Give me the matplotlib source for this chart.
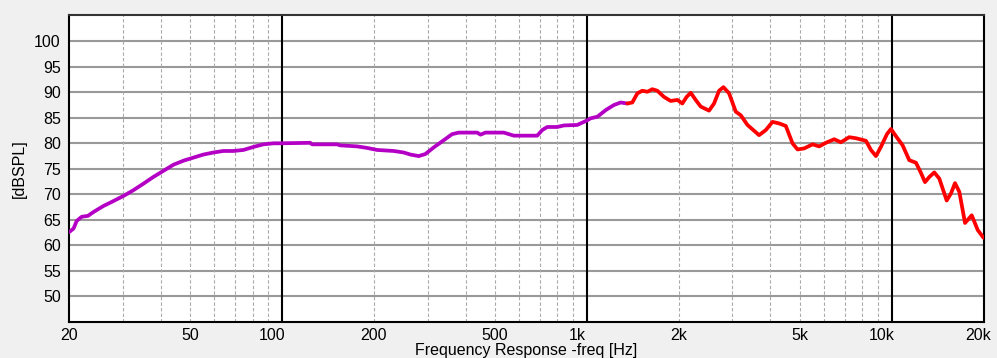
import numpy as np
import matplotlib
matplotlib.use('Agg')
import matplotlib.pyplot as plt
from matplotlib.transforms import ScaledTranslation

# frequency response (Hz, dBSPL)
freq_low = [20, 20.7, 21.2, 22.0, 23.1, 24.0, 25.9, 28.0, 30.2, 32.5, 35.1, 37.8,
            40.8, 44.0, 47.5, 51.2, 55.2, 59.6, 64.2, 69.3, 74.7, 80.6, 86.9, 93.8,
            98.6, 123.7, 125.4, 151.4, 155.2, 176.2, 190, 204.9, 232.3, 250.6,
            263.6, 280.6, 295.2, 314.4, 339, 361.3, 379.8, 436.6, 447.6, 464.8,
            533.8, 575.8, 687, 713.6, 741, 799, 840, 929.6, 1002.6, 1028, 1082,
            1152, 1226, 1290, 1357]
spl_low = [62.6, 63.3, 64.8, 65.6, 65.8, 66.5, 67.7, 68.7, 69.7, 70.8, 72.1, 73.4,
           74.6, 75.8, 76.6, 77.2, 77.8, 78.2, 78.5, 78.5, 78.7, 79.3, 79.8, 80.0,
           80.0, 80.1, 79.8, 79.8, 79.6, 79.4, 79.1, 78.7, 78.5, 78.2,
           77.8, 77.5, 77.9, 79.2, 80.6, 81.8, 82.1, 82.1, 81.7, 82.1,
           82.1, 81.5, 81.5, 82.6, 83.2, 83.2, 83.5, 83.6, 84.5, 84.9, 85.2,
           86.5, 87.5, 88.0, 87.8]

freq_high = [1357, 1409, 1464, 1520, 1579, 1639, 1702, 1789, 1882, 1980, 2056, 2124,
             2190, 2274, 2362, 2516, 2612, 2713, 2804, 2926, 3078, 3196, 3362, 3670,
             3862, 4062, 4270, 4492, 4725, 4908, 5159, 5498, 5779, 6080, 6473, 6808,
             7249, 7625, 8227, 8543, 8872, 9213, 9642, 9938, 10320, 10856, 11412,
             12004, 12466, 12850, 13274, 13786, 14316, 15140, 15642, 16122, 16656,
             17390, 18292, 19146, 20000]
spl_high = [87.8, 88.0, 89.8, 90.3, 90.1, 90.6, 90.3, 89.1, 88.3, 88.5, 87.8, 89.1,
            89.9, 88.5, 87.2, 86.4, 87.8, 90.3, 91.0, 89.8, 86.2, 85.5, 83.6, 81.6,
            82.6, 84.2, 83.9, 83.4, 80.0, 78.8, 79.0, 79.8, 79.4, 80.1, 80.8, 80.2,
            81.2, 81.0, 80.5, 78.7, 77.5, 79.3, 81.8, 82.8, 81.4, 79.6, 76.7,
            76.2, 74.2, 72.4, 73.4, 74.3, 73.1, 68.8, 70.2, 72.2, 70.5,
            64.4, 65.9, 63.0, 61.5]

xticks = [20, 50, 100, 200, 500, 1000, 2000, 5000, 10000, 20000]
xticklabels = ['20', '50', '100', '200', '500', '1k', '2k', '5k', '10k', '20k']
yticks = list(range(50, 101, 5))
minor_lines = [30, 40, 50, 60, 70, 80, 90, 200, 300, 400, 500, 600, 700, 800, 900,
               2000, 3000, 4000, 5000, 6000, 7000, 8000, 9000]
major_lines = [100, 1000, 10000]

plt.rcParams['font.family'] = ['Liberation Sans', 'DejaVu Sans']

fig = plt.figure(figsize=(9.97, 3.58), dpi=100, facecolor='#f0f0f0')
ax = fig.add_axes([0.0692, 0.1006, 0.9173, 0.8584])
ax.set_facecolor('white')

ax.set_xscale('log')
ax.set_xlim(20, 20000)
ax.set_ylim(45, 105.2)

for y in yticks:
    ax.axhline(y, color='#999999', lw=1.5, zorder=1)
for x in minor_lines:
    ax.axvline(x, color='#aaaaaa', lw=0.8, ls=(0, (3, 2)), zorder=1)
for x in major_lines:
    ax.axvline(x, color='black', lw=1.5, zorder=2)

ax.plot(freq_low, spl_low, color='#b400c4', lw=2.7, zorder=3, solid_capstyle='round')
ax.plot(freq_high, spl_high, color='#ff0000', lw=2.7, zorder=3, solid_capstyle='round')

ax.set_xticks(xticks)
ax.set_xticklabels(xticklabels)
ax.xaxis.set_minor_locator(plt.NullLocator())
ax.set_yticks(yticks)
ax.tick_params(axis='both', length=0, labelsize=11.5)
ax.tick_params(axis='x', pad=4)
ax.tick_params(axis='y', pad=6)

# the decade labels sit a little left of their lines
shifts = {'100': -7, '1k': -7, '10k': -7, '20k': -4}
for lab in ax.get_xticklabels():
    dx = shifts.get(lab.get_text(), 0)
    if dx:
        lab.set_transform(lab.get_transform() + ScaledTranslation(dx / 72, 0, fig.dpi_scale_trans))

for s in ax.spines.values():
    s.set_color('black')
    s.set_linewidth(1.5)
ax.spines['top'].set_color('#333333')

ax.set_xlabel('Frequency Response -freq [Hz]', fontsize=11.5, labelpad=0)
ax.set_ylabel('[dBSPL]', fontsize=11.5, labelpad=5)

fig.savefig('out.png', dpi=100, facecolor=fig.get_facecolor())
